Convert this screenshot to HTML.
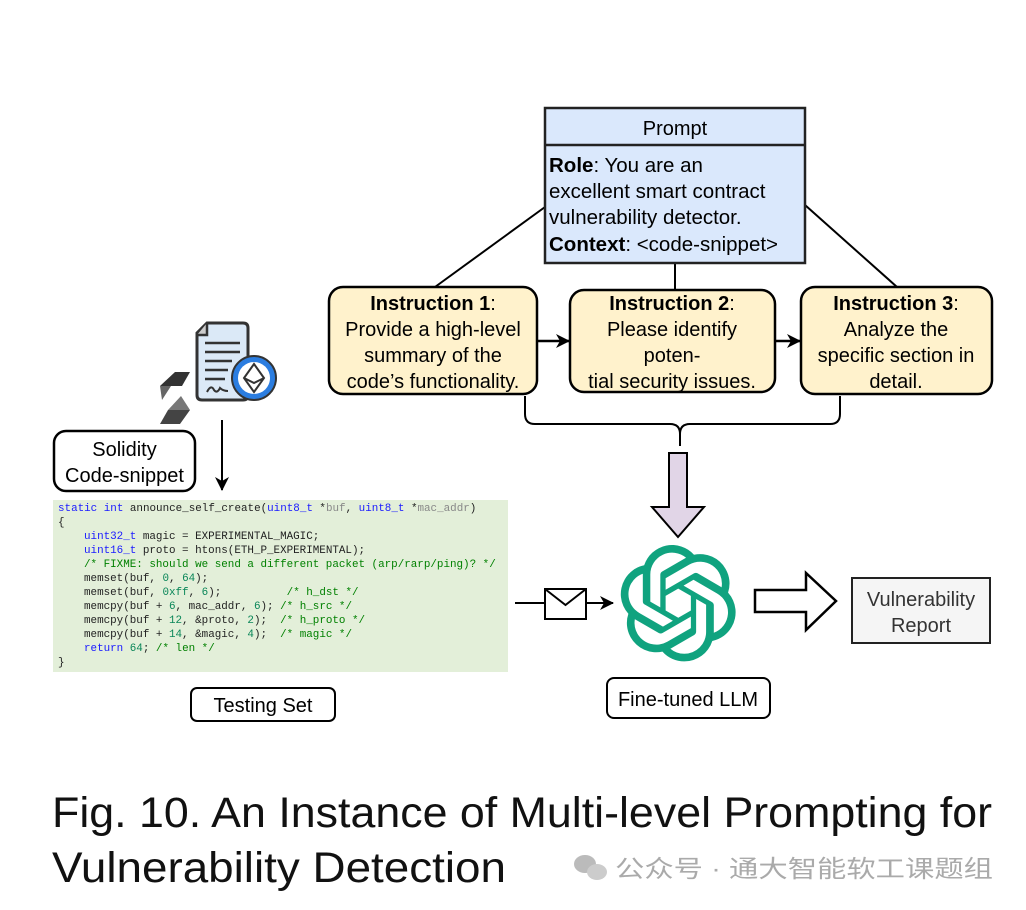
<!DOCTYPE html>
<html><head><meta charset="utf-8"><style>
html,body{margin:0;padding:0;background:#fff}
svg{display:block}
text{font-family:"Liberation Sans","Noto Sans CJK SC",sans-serif}
.m{font-family:"Liberation Mono",monospace;font-size:10.9px;fill:#222}
.kw{fill:#1a1aff}.cm{fill:#008000}.nm{fill:#098658}.gr{fill:#888}
</style></head><body>
<svg width="1026" height="910" viewBox="0 0 1026 910" xmlns="http://www.w3.org/2000/svg">
<defs><marker id="ah" markerWidth="14" markerHeight="14" refX="13" refY="7" orient="auto" markerUnits="userSpaceOnUse"><path d="M0,0 L14,7 L0,14 L4,7 Z" fill="#000"/></marker></defs>
<line x1="545" y1="207" x2="435" y2="287" stroke="#000" stroke-width="2"/>
<line x1="805" y1="205" x2="897" y2="287" stroke="#000" stroke-width="2"/>
<line x1="675" y1="248" x2="675" y2="290" stroke="#000" stroke-width="2"/>
<rect x="545" y="108" width="260" height="155" fill="#dae8fc" stroke="#222" stroke-width="2.5"/>
<line x1="545" y1="145" x2="805" y2="145" stroke="#222" stroke-width="2.5"/>
<text x="675" y="135" font-size="20" text-anchor="middle">Prompt</text>
<g font-size="20.5">
<text x="549" y="172"><tspan font-weight="bold">Role</tspan>: You are an</text>
<text x="549" y="198">excellent smart contract</text>
<text x="549" y="224">vulnerability detector.</text>
<text x="549" y="251"><tspan font-weight="bold">Context</tspan>: &lt;code-snippet&gt;</text>
</g>
<g fill="#fff2cc" stroke="#000" stroke-width="2.5">
<rect x="329" y="287" width="208" height="107" rx="14"/>
<rect x="570" y="290" width="205" height="102" rx="14"/>
<rect x="801" y="287" width="191" height="107" rx="14"/>
</g>
<g font-size="20" text-anchor="middle">
<text x="433" y="310"><tspan font-weight="bold">Instruction 1</tspan>:</text>
<text x="433" y="336">Provide a high-level</text>
<text x="433" y="362">summary of the</text>
<text x="433" y="388">code’s functionality.</text>
<text x="672" y="310"><tspan font-weight="bold">Instruction 2</tspan>:</text>
<text x="672" y="336">Please identify</text>
<text x="672" y="362">poten-</text>
<text x="672" y="388">tial security issues.</text>
<text x="896" y="310"><tspan font-weight="bold">Instruction 3</tspan>:</text>
<text x="896" y="336">Analyze the</text>
<text x="896" y="362">specific section in</text>
<text x="896" y="388">detail.</text>
</g>
<line x1="537" y1="341" x2="569" y2="341" stroke="#000" stroke-width="2.5" marker-end="url(#ah)"/>
<line x1="775" y1="341" x2="800" y2="341" stroke="#000" stroke-width="2.5" marker-end="url(#ah)"/>
<path d="M525,396 V414 Q525,424 535,424 H670 Q680,424 680,434 V446 M680,434 Q680,424 690,424 H830 Q840,424 840,414 V396" fill="none" stroke="#000" stroke-width="2"/>
<path d="M669,453 H687 V507 H704 L678,537 L652,507 H669 Z" fill="#e1d5e7" stroke="#000" stroke-width="2"/>
<g transform="translate(620,545) scale(4.85)" fill="#10a37f">
<path d="M22.2819 9.8211a5.9847 5.9847 0 0 0-.5157-4.9108 6.0462 6.0462 0 0 0-6.5098-2.9A6.0651 6.0651 0 0 0 4.9807 4.1818a5.9847 5.9847 0 0 0-3.9977 2.9 6.0462 6.0462 0 0 0 .7427 7.0966 5.98 5.98 0 0 0 .511 4.9107 6.051 6.051 0 0 0 6.5146 2.9001A5.9847 5.9847 0 0 0 13.2599 24a6.0557 6.0557 0 0 0 5.7718-4.2058 5.9894 5.9894 0 0 0 3.9977-2.9001 6.0557 6.0557 0 0 0-.7475-7.0729zm-9.022 12.6081a4.4755 4.4755 0 0 1-2.8764-1.0408l.1419-.0804 4.7783-2.7582a.7948.7948 0 0 0 .3927-.6813v-6.7369l2.02 1.1686a.071.071 0 0 1 .038.052v5.5826a4.504 4.504 0 0 1-4.4945 4.4944zm-9.6607-4.1254a4.4708 4.4708 0 0 1-.5346-3.0137l.142.0852 4.783 2.7582a.7712.7712 0 0 0 .7806 0l5.8428-3.3685v2.3324a.0804.0804 0 0 1-.0332.0615L9.74 19.9502a4.4992 4.4992 0 0 1-6.1408-1.6464zM2.3408 7.8956a4.485 4.485 0 0 1 2.3655-1.9728V11.6a.7664.7664 0 0 0 .3879.6765l5.8144 3.3543-2.0201 1.1685a.0757.0757 0 0 1-.071 0l-4.8303-2.7865A4.504 4.504 0 0 1 2.3408 7.872zm16.5963 3.8558L13.1038 8.364 15.1192 7.2a.0757.0757 0 0 1 .071 0l4.8303 2.7913a4.4944 4.4944 0 0 1-.6765 8.1042v-5.6772a.79.79 0 0 0-.407-.667zm2.0107-3.0231l-.142-.0852-4.7735-2.7818a.7759.7759 0 0 0-.7854 0L9.409 9.2297V6.8974a.0662.0662 0 0 1 .0284-.0615l4.8303-2.7866a4.4992 4.4992 0 0 1 6.6802 4.66zM8.3065 12.863l-2.02-1.1638a.0804.0804 0 0 1-.038-.0567V6.0742a4.4992 4.4992 0 0 1 7.3757-3.4537l-.142.0805L8.704 5.459a.7948.7948 0 0 0-.3927.6813zm1.0976-2.3654l2.602-1.4998 2.6069 1.4998v2.9994l-2.5974 1.4997-2.6067-1.4997Z"/>
</g>
<line x1="515" y1="603" x2="545" y2="603" stroke="#000" stroke-width="2"/>
<rect x="545" y="589" width="41" height="30" fill="#fff" stroke="#000" stroke-width="2"/>
<path d="M545,589 L565.5,605 L586,589" fill="none" stroke="#000" stroke-width="2"/>
<line x1="586" y1="603" x2="613" y2="603" stroke="#000" stroke-width="2" marker-end="url(#ah)"/>
<path d="M755,590 H806 V573 L836,601 L806,630 V612 H755 Z" fill="#fff" stroke="#000" stroke-width="2.5"/>
<rect x="852" y="578" width="138" height="65" fill="#f5f5f5" stroke="#222" stroke-width="2"/>
<text x="921" y="606" font-size="20" text-anchor="middle" fill="#333">Vulnerability</text>
<text x="921" y="632" font-size="20" text-anchor="middle" fill="#333">Report</text>
<rect x="607" y="678" width="163" height="40" rx="7" fill="#fff" stroke="#000" stroke-width="2"/>
<text x="688" y="706" font-size="20" text-anchor="middle">Fine-tuned LLM</text>
<g>
<path d="M207,323 H243 Q248,323 248,328 V395 Q248,400 243,400 H202 Q197,400 197,395 V333 Z" fill="#dbe9f7" stroke="#333" stroke-width="3"/>
<path d="M197,335 L207,335 L207,323" fill="#ccc" stroke="#333" stroke-width="2.5"/>
<g stroke="#333" stroke-width="2.5"><line x1="205" y1="343" x2="240" y2="343"/><line x1="205" y1="352" x2="240" y2="352"/><line x1="205" y1="361" x2="232" y2="361"/><line x1="205" y1="370" x2="228" y2="370"/><line x1="205" y1="379" x2="225" y2="379"/></g>
<path d="M207,392 q4,-8 7,-2 q3,4 6,-2 q3,3 8,3" fill="none" stroke="#333" stroke-width="2"/>
<circle cx="254" cy="378" r="22" fill="#2b7de0" stroke="#333" stroke-width="2"/>
<circle cx="254" cy="378" r="16" fill="#fff"/>
<path d="M254,364 L264,378 L254,392 L244,378 Z M244,378 L254,383 L264,378" fill="none" stroke="#333" stroke-width="2"/>
<path d="M175,372 L190,372 L182,386 L160,386 Z" fill="#333"/>
<path d="M160,386 L171,386 L162,400 Z" fill="#666"/>
<path d="M168,410 L190,410 L180,424 L160,424 Z" fill="#444"/>
<path d="M181,396 L190,410 L168,410 Z" fill="#777"/>
</g>
<line x1="222" y1="420" x2="222" y2="490" stroke="#000" stroke-width="2" marker-end="url(#ah)"/>
<rect x="54" y="431" width="141" height="60" rx="12" fill="#fff" stroke="#000" stroke-width="2.5"/>
<text x="124.5" y="456" font-size="20" text-anchor="middle">Solidity</text>
<text x="124.5" y="482" font-size="20" text-anchor="middle">Code-snippet</text>
<rect x="53" y="500" width="455" height="172" fill="#e3efd9"/>
<text class="m" x="58" y="511"><tspan class="kw">static int</tspan> announce_self_create(<tspan class="kw">uint8_t</tspan> *<tspan class="gr">buf</tspan>, <tspan class="kw">uint8_t</tspan> *<tspan class="gr">mac_addr</tspan>)</text>
<text class="m" x="58" y="525">{</text>
<text class="m" x="84" y="539"><tspan class="kw">uint32_t</tspan> magic = EXPERIMENTAL_MAGIC;</text>
<text class="m" x="84" y="553"><tspan class="kw">uint16_t</tspan> proto = htons(ETH_P_EXPERIMENTAL);</text>
<text class="m cm" x="84" y="567">/* FIXME: should we send a different packet (arp/rarp/ping)? */</text>
<text class="m" x="84" y="581" xml:space="preserve">memset(buf, <tspan class="nm">0</tspan>, <tspan class="nm">64</tspan>);</text>
<text class="m" x="84" y="595" xml:space="preserve">memset(buf, <tspan class="nm">0xff</tspan>, <tspan class="nm">6</tspan>);          <tspan class="cm">/* h_dst */</tspan></text>
<text class="m" x="84" y="609" xml:space="preserve">memcpy(buf + <tspan class="nm">6</tspan>, mac_addr, <tspan class="nm">6</tspan>); <tspan class="cm">/* h_src */</tspan></text>
<text class="m" x="84" y="623" xml:space="preserve">memcpy(buf + <tspan class="nm">12</tspan>, &amp;proto, <tspan class="nm">2</tspan>);  <tspan class="cm">/* h_proto */</tspan></text>
<text class="m" x="84" y="637" xml:space="preserve">memcpy(buf + <tspan class="nm">14</tspan>, &amp;magic, <tspan class="nm">4</tspan>);  <tspan class="cm">/* magic */</tspan></text>
<text class="m" x="84" y="651"><tspan class="kw">return</tspan> <tspan class="nm">64</tspan>; <tspan class="cm">/* len */</tspan></text>
<text class="m" x="58" y="665">}</text>
<rect x="191" y="688" width="144" height="33" rx="6" fill="#fff" stroke="#000" stroke-width="2"/>
<text x="263" y="712" font-size="20" text-anchor="middle">Testing Set</text>
<text x="52" y="827" font-size="43" textLength="940" lengthAdjust="spacingAndGlyphs" fill="#111">Fig. 10.  An Instance of Multi-level Prompting for</text>
<text x="52" y="882" font-size="43" textLength="454" lengthAdjust="spacingAndGlyphs" fill="#111">Vulnerability Detection</text>
<ellipse cx="585" cy="864" rx="11" ry="9" fill="#bbb"/>
<ellipse cx="597" cy="872" rx="10" ry="8" fill="#ccc"/>
<text x="615" y="877" font-size="24" fill="#aaa" textLength="378" lengthAdjust="spacingAndGlyphs">公众号 · 通大智能软工课题组</text>
</svg>
</body></html>
